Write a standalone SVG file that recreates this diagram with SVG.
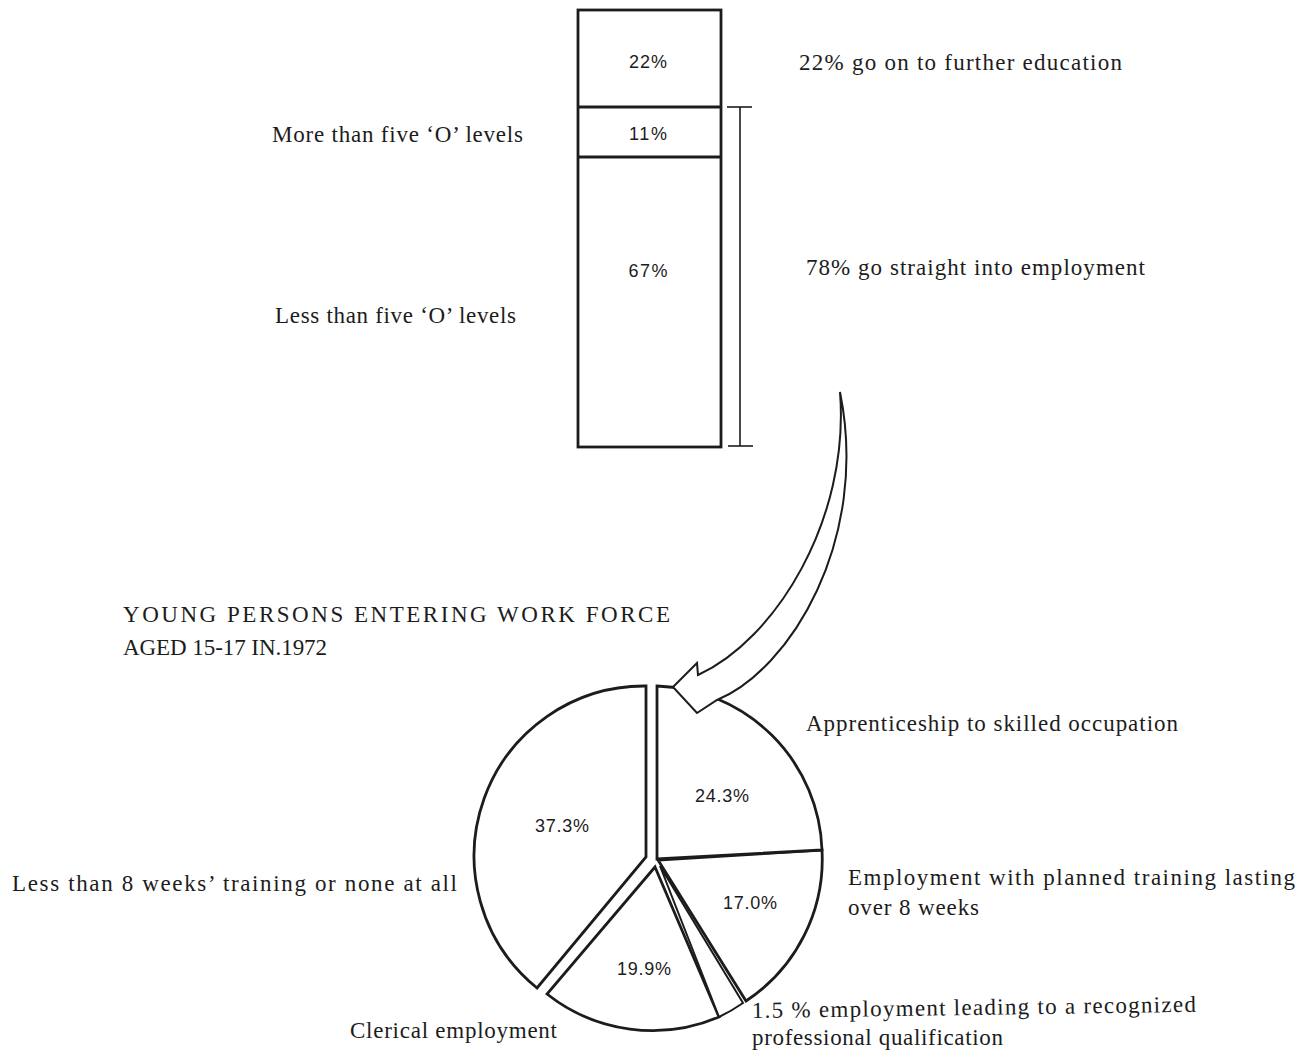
<svg xmlns="http://www.w3.org/2000/svg" width="1310" height="1057" viewBox="0 0 1310 1057">
<style>
.serif{font-family:"Liberation Serif","Times New Roman",serif;font-size:23px;fill:#1c1c1c}
.sans{font-family:"Liberation Sans",Arial,sans-serif;font-size:18px;fill:#1c1c1c;text-anchor:middle}
.ol{fill:#fff;stroke:#1c1c1c;stroke-width:2.8;stroke-linejoin:miter}
.thin{fill:none;stroke:#1c1c1c;stroke-width:1.6}
</style>
<rect width="1310" height="1057" fill="#fff"/>
<g id="bar">
<rect class="ol" x="578" y="10" width="143" height="437"/>
<line class="ol" x1="578" y1="107" x2="721" y2="107"/>
<line class="ol" x1="578" y1="157" x2="721" y2="157"/>
<text class="sans" x="648" y="68" textLength="38" lengthAdjust="spacing">22%</text>
<text class="sans" x="648" y="140" textLength="38" lengthAdjust="spacing">11%</text>
<text class="sans" x="648" y="277" textLength="39" lengthAdjust="spacing">67%</text>
</g>
<g id="bracket">
<line class="thin" x1="740" y1="107" x2="740" y2="446"/>
<line class="thin" x1="727" y1="107" x2="752" y2="107"/>
<line class="thin" x1="728" y1="446" x2="753" y2="446"/>
</g>
<g id="bar-labels">
<text class="serif" x="799" y="70" textLength="323" lengthAdjust="spacing">22%  go on to further education</text>
<text class="serif" x="806" y="275" textLength="339" lengthAdjust="spacing">78%  go straight into employment</text>
<text class="serif" x="272" y="142" textLength="251" lengthAdjust="spacing">More than five ‘O’ levels</text>
<text class="serif" x="275" y="323" textLength="241" lengthAdjust="spacing">Less than five ‘O’ levels</text>
</g>
<g id="title">
<text class="serif" x="123" y="622" textLength="547" lengthAdjust="spacing">YOUNG PERSONS ENTERING WORK FORCE</text>
<text class="serif" x="123" y="655" textLength="204" lengthAdjust="spacing">AGED 15-17 IN.1972</text>
</g>
<g id="pie">
<path id="slice-37" class="ol" d="M646,857 L646,686 A170,170 0 0 0 537,988 Z"/>
<path id="slice-19" class="ol" d="M655,867 L719,1017 A170,170 0 0 1 547,994 Z"/>
<path id="slice-1" class="ol" d="M660,866 L743,1003 A170,170 0 0 1 719,1017 Z" style="stroke-width:2"/>
<path id="slice-17" class="ol" d="M658,860 L822,850 A170,170 0 0 1 746,1001 Z"/>
<path id="slice-24" class="ol" d="M657,859 L657,686 A170,170 0 0 1 822,850 Z"/>
<text class="sans" x="722" y="802" textLength="54" lengthAdjust="spacing">24.3%</text>
<text class="sans" x="562" y="832" textLength="54" lengthAdjust="spacing">37.3%</text>
<text class="sans" x="750" y="909" textLength="54" lengthAdjust="spacing">17.0%</text>
<text class="sans" x="644" y="975" textLength="54" lengthAdjust="spacing">19.9%</text>
</g>
<g id="connectors">
<path id="curved-arrow" d="M673,687 L697,663 L698,675 C775,640 850,520 840,392 C870,540 790,670 717,700 L697,713 Z" fill="#fff" stroke="#1c1c1c" stroke-width="2" stroke-linejoin="miter"/>
</g>
<g id="pie-labels">
<text class="serif" x="806" y="731" textLength="372" lengthAdjust="spacing">Apprenticeship to skilled occupation</text>
<text class="serif" x="848" y="885" textLength="447" lengthAdjust="spacing">Employment with planned training lasting</text>
<text class="serif" x="848" y="915" textLength="131" lengthAdjust="spacing">over 8 weeks</text>
<text class="serif" x="752" y="1018" textLength="444" lengthAdjust="spacing" transform="rotate(-0.8 752 1018)">1.5 % employment leading to a recognized</text>
<text class="serif" x="752" y="1045" textLength="251" lengthAdjust="spacing">professional qualification</text>
<text class="serif" x="350" y="1038" textLength="207" lengthAdjust="spacing">Clerical employment</text>
<text class="serif" x="12" y="891" textLength="445" lengthAdjust="spacing">Less than 8 weeks’ training or none at all</text>
</g>
</svg>
